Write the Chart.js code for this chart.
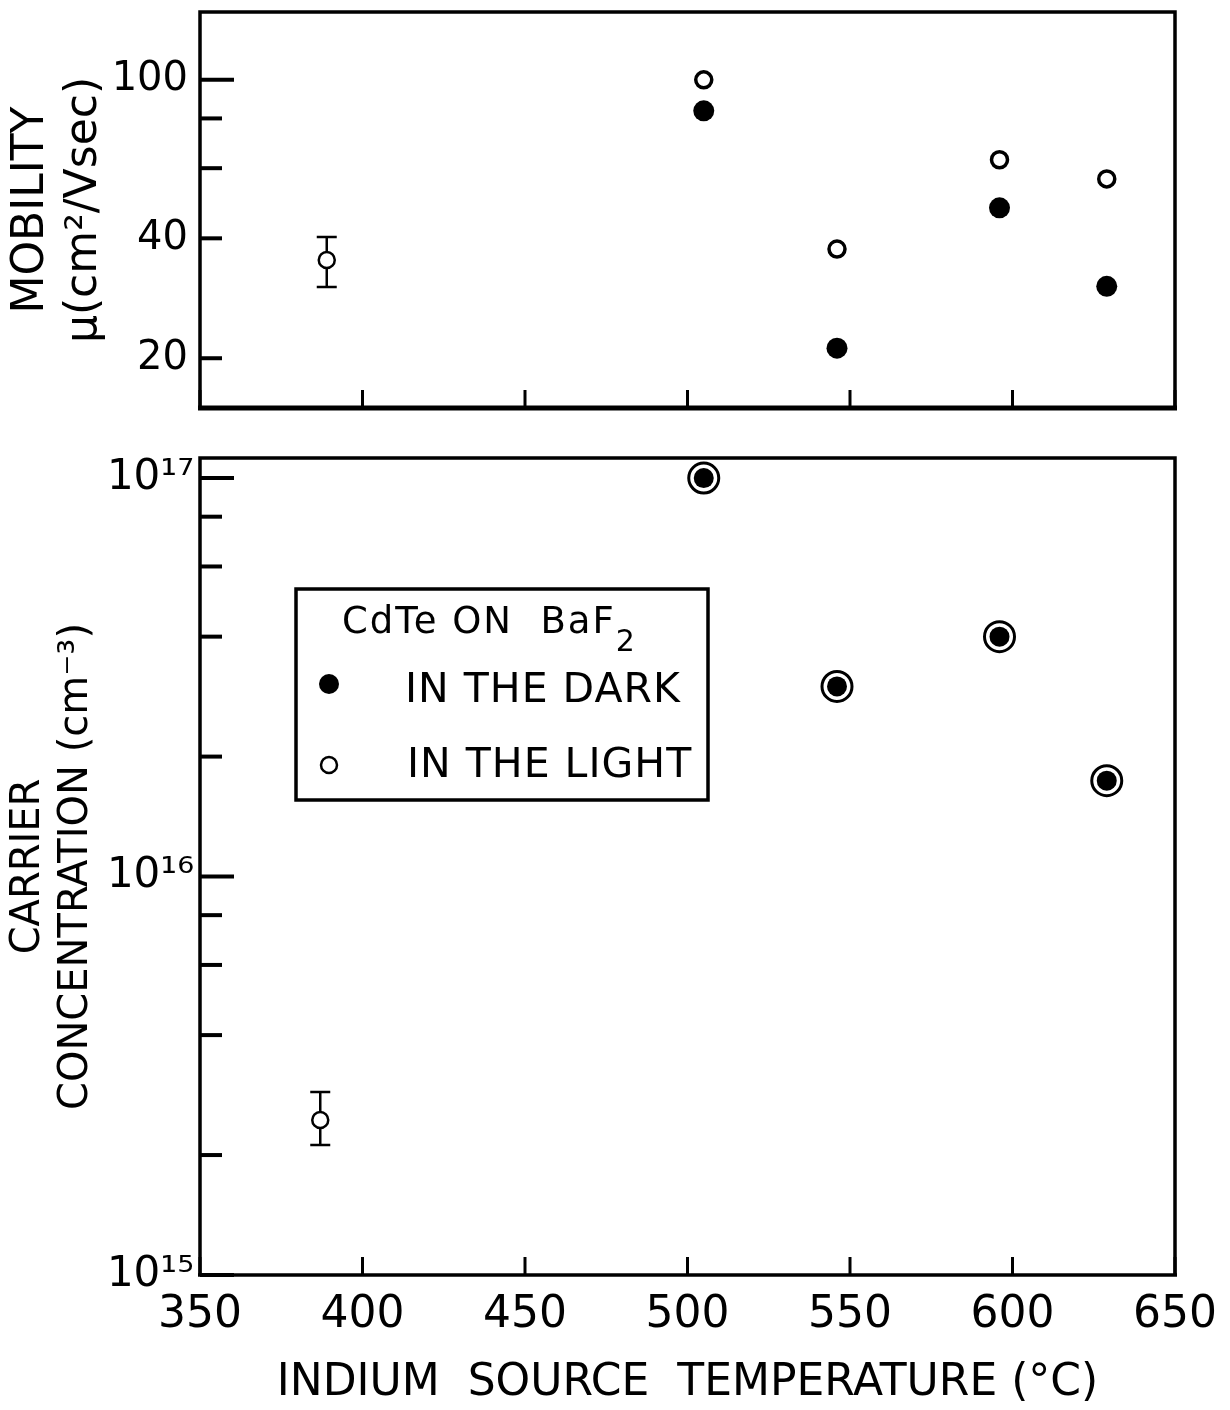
<!DOCTYPE html>
<html>
<head>
<meta charset="utf-8">
<script src="https://cdn.jsdelivr.net/npm/chart.js@4.4.1/dist/chart.umd.min.js"></script>
<style>
  body { margin: 0; background: #fff; }
  #wrap { position: relative; width: 1230px; height: 1410px; background: #fff; }
  canvas { position: absolute; left: 0; }
  #mobchart { top: 0; }
  #concchart { top: 430px; }
</style>
</head>
<body>
<div id="wrap">
  <canvas id="mobchart" width="1230" height="430"></canvas>
  <canvas id="concchart" width="1230" height="980"></canvas>
</div>
<script>
// indium source temperature (C) of the four layers
const temps = [505, 546, 596, 629];

// hall mobility, cm2/Vsec
const mobDark = [83.6, 21.2, 47.7, 30.3];
const mobLight = [100, 37.6, 63.0, 56.4];
// undoped layer, shown with an error bar
const mobErrTemp = [389];
const mobErrVal = [35.3];
const mobErrLow = [30.2];
const mobErrHigh = [40.3];

// carrier concentration, cm-3 (dark and light are the same here)
const concDark = [1.0e17, 3.0e16, 4.0e16, 1.74e16];
const concLight = [1.0e17, 3.0e16, 4.0e16, 1.74e16];
const concErrTemp = [387];
const concErrVal = [2.45e15];
const concErrLow = [2.12e15];
const concErrHigh = [2.88e15];

// axes
const xTicks = [350, 400, 450, 500, 550, 600, 650];
const mobTicks = [20, 40, 60, 80, 100];
const mobTickLabels = ['20', '40', '', '', '100'];
const concTicks = [1e15, 2e15, 4e15, 6e15, 8e15, 1e16, 2e16, 4e16, 6e16, 8e16, 1e17];
const concTickLabels = ['10¹⁵', '', '', '', '', '10¹⁶', '', '', '', '', '10¹⁷'];
// key title, "BaF" gets a subscript 2
const legendTitle = 'CdTe ON  BaF';
const legendSub = '2';

const FONT = "'DejaVu Sans', 'Liberation Sans', sans-serif";

function pts(xs, ys) {
  return xs.map((x, i) => ({x: x, y: ys[i]}));
}

// box round the plot, ticks pointing inwards, error bars
const framePlugin = {
  id: 'frame',
  beforeDatasetsDraw(chart, args, opts) {
    const ctx = chart.ctx;
    const a = chart.chartArea;
    const xs = chart.scales.x;
    const ys = chart.scales.y;
    ctx.save();
    ctx.strokeStyle = '#000';
    ctx.lineCap = 'butt';

    ctx.lineWidth = 4;
    ys.ticks.forEach(t => {
      const py = ys.getPixelForValue(t.value);
      const lg = Math.log10(t.value);
      const decade = Math.abs(lg - Math.round(lg)) < 1e-6;
      ctx.beginPath();
      ctx.moveTo(a.left, py);
      ctx.lineTo(a.left + (decade ? 34 : 22), py);
      ctx.stroke();
    });

    ctx.lineWidth = 3;
    xs.ticks.forEach(t => {
      const px = xs.getPixelForValue(t.value);
      ctx.beginPath();
      ctx.moveTo(px, a.bottom);
      ctx.lineTo(px, a.bottom - 18);
      ctx.stroke();
    });

    ctx.lineWidth = 3.5;
    ctx.beginPath();
    ctx.moveTo(a.left, a.bottom);
    ctx.lineTo(a.left, a.top);
    ctx.lineTo(a.right, a.top);
    ctx.lineTo(a.right, a.bottom);
    ctx.stroke();
    ctx.lineWidth = opts.bottomWidth || 3.5;
    ctx.beginPath();
    ctx.moveTo(a.left - 2, a.bottom);
    ctx.lineTo(a.right + 2, a.bottom);
    ctx.stroke();

    // error bars
    const e = opts.err;
    if (e) {
      ctx.lineWidth = 2.5;
      e.x.forEach((t, i) => {
        const px = xs.getPixelForValue(t);
        const lo = ys.getPixelForValue(e.low[i]);
        const hi = ys.getPixelForValue(e.high[i]);
        ctx.beginPath();
        ctx.moveTo(px, lo); ctx.lineTo(px, hi);
        ctx.moveTo(px - 10, lo); ctx.lineTo(px + 10, lo);
        ctx.moveTo(px - 10, hi); ctx.lineTo(px + 10, hi);
        ctx.stroke();
      });
    }
    ctx.restore();
  }
};

// the boxed key inside the lower panel
const keyPlugin = {
  id: 'keybox',
  afterDraw(chart) {
    const ctx = chart.ctx;
    const a = chart.chartArea;
    const bx = a.left + 96, by = a.top + 131;
    const ds = chart.data.datasets;
    ctx.save();
    ctx.strokeStyle = '#000';
    ctx.fillStyle = '#000';
    ctx.lineWidth = 3.5;
    ctx.strokeRect(bx, by, 412, 211);
    ctx.textBaseline = 'alphabetic';
    ctx.font = '37px ' + FONT;
    ctx.letterSpacing = '2px';
    ctx.fillText(legendTitle, bx + 46, by + 44);
    const w = ctx.measureText(legendTitle).width;
    ctx.font = '30px ' + FONT;
    ctx.fillText(legendSub, bx + 46 + w, by + 62);
    ctx.font = '41px ' + FONT;
    ctx.letterSpacing = '1px';
    ctx.fillText(ds[0].label, bx + 109, by + 113);
    ctx.fillText(ds[1].label, bx + 111, by + 188);
    ctx.beginPath();
    ctx.arc(bx + 33, by + 95, 10, 0, Math.PI * 2);
    ctx.fill();
    ctx.lineWidth = 2.5;
    ctx.beginPath();
    ctx.arc(bx + 33, by + 176, 8, 0, Math.PI * 2);
    ctx.stroke();
    ctx.restore();
  }
};

const common = {
  responsive: false,
  animation: false,
  events: [],
};

new Chart(document.getElementById('mobchart'), {
  type: 'scatter',
  data: {
    datasets: [
      {
        label: 'IN THE DARK',
        data: pts(temps, mobDark),
        pointRadius: 10.5,
        pointBackgroundColor: '#000',
        pointBorderColor: '#000',
        pointBorderWidth: 0,
        clip: false
      },
      {
        label: 'IN THE LIGHT',
        data: pts(temps, mobLight),
        pointRadius: 8,
        pointBackgroundColor: '#fff',
        pointBorderColor: '#000',
        pointBorderWidth: 3.5,
        clip: false
      },
      {
        label: 'undoped',
        data: pts(mobErrTemp, mobErrVal),
        pointRadius: 8,
        pointBackgroundColor: '#fff',
        pointBorderColor: '#000',
        pointBorderWidth: 2.5,
        clip: false
      }
    ]
  },
  options: {
    ...common,
    layout: { padding: { left: 0, top: 12, right: 55, bottom: 22 } },
    plugins: {
      legend: { display: false },
      tooltip: { enabled: false },
      frame: { bottomWidth: 5, err: { x: mobErrTemp, low: mobErrLow, high: mobErrHigh } }
    },
    scales: {
      x: {
        type: 'linear', min: 350, max: 650,
        ticks: { display: false },
        grid: { display: false, drawTicks: false },
        border: { display: false },
        afterBuildTicks: s => { s.ticks = xTicks.map(v => ({value: v})); },
        afterFit: s => { s.height = 0; s.paddingLeft = 0; s.paddingRight = 0; }
      },
      y: {
        type: 'logarithmic', min: 15, max: 148, bounds: 'data',
        grid: { display: false, drawTicks: false },
        border: { display: false },
        afterBuildTicks: s => { s.ticks = mobTicks.map(v => ({value: v})); },
        afterFit: s => { s.width = 200; s.paddingTop = 0; s.paddingBottom = 0; },
        ticks: {
          autoSkip: false,
          padding: 12,
          color: '#000',
          font: { family: FONT, size: 40 },
          callback: (v, i) => mobTickLabels[i]
        },
        title: {
          display: true,
          text: ['MOBILITY', 'μ(cm²/Vsec)'],
          color: '#000',
          font: { family: FONT, size: 44, lineHeight: 1.2 },
          padding: { top: 5, bottom: 0 }
        }
      }
    }
  },
  plugins: [framePlugin]
});

new Chart(document.getElementById('concchart'), {
  type: 'scatter',
  data: {
    datasets: [
      {
        label: 'IN THE DARK',
        data: pts(temps, concDark),
        pointRadius: 10,
        pointBackgroundColor: '#000',
        pointBorderColor: '#000',
        pointBorderWidth: 0,
        clip: false
      },
      {
        label: 'IN THE LIGHT',
        data: pts(temps, concLight),
        pointRadius: 15,
        pointBackgroundColor: 'rgba(0,0,0,0)',
        pointBorderColor: '#000',
        pointBorderWidth: 3,
        clip: false
      },
      {
        label: 'undoped',
        data: pts(concErrTemp, concErrVal),
        pointRadius: 8,
        pointBackgroundColor: '#fff',
        pointBorderColor: '#000',
        pointBorderWidth: 2.5,
        clip: false
      }
    ]
  },
  options: {
    ...common,
    layout: { padding: { left: 0, top: 28, right: 55, bottom: 0 } },
    plugins: {
      legend: { display: false },
      tooltip: { enabled: false },
      frame: { bottomWidth: 3.5, err: { x: concErrTemp, low: concErrLow, high: concErrHigh } }
    },
    scales: {
      x: {
        type: 'linear', min: 350, max: 650,
        grid: { display: false, drawTicks: false },
        border: { display: false },
        afterBuildTicks: s => { s.ticks = xTicks.map(v => ({value: v})); },
        afterFit: s => { s.height = 135; s.paddingLeft = 0; s.paddingRight = 0; },
        ticks: {
          autoSkip: false,
          maxRotation: 0,
          padding: 14,
          color: '#000',
          font: { family: FONT, size: 44 }
        },
        title: {
          display: true,
          text: 'INDIUM  SOURCE  TEMPERATURE (°C)',
          color: '#000',
          font: { family: FONT, size: 44 },
          padding: { top: 0, bottom: 0 }
        }
      },
      y: {
        type: 'logarithmic', min: 1e15, max: 1.123e17, bounds: 'data',
        grid: { display: false, drawTicks: false },
        border: { display: false },
        afterBuildTicks: s => { s.ticks = concTicks.map(v => ({value: v})); },
        afterFit: s => { s.width = 200; s.paddingTop = 0; s.paddingBottom = 0; },
        ticks: {
          autoSkip: false,
          padding: 6,
          color: '#000',
          font: { family: FONT, size: 42 },
          callback: (v, i) => concTickLabels[i]
        },
        title: {
          display: true,
          text: ['CARRIER', 'CONCENTRATION (cm⁻³)'],
          color: '#000',
          font: { family: FONT, size: 40, lineHeight: 1.2 },
          padding: { top: 5, bottom: 0 }
        }
      }
    }
  },
  plugins: [framePlugin, keyPlugin]
});
</script>
</body>
</html>
